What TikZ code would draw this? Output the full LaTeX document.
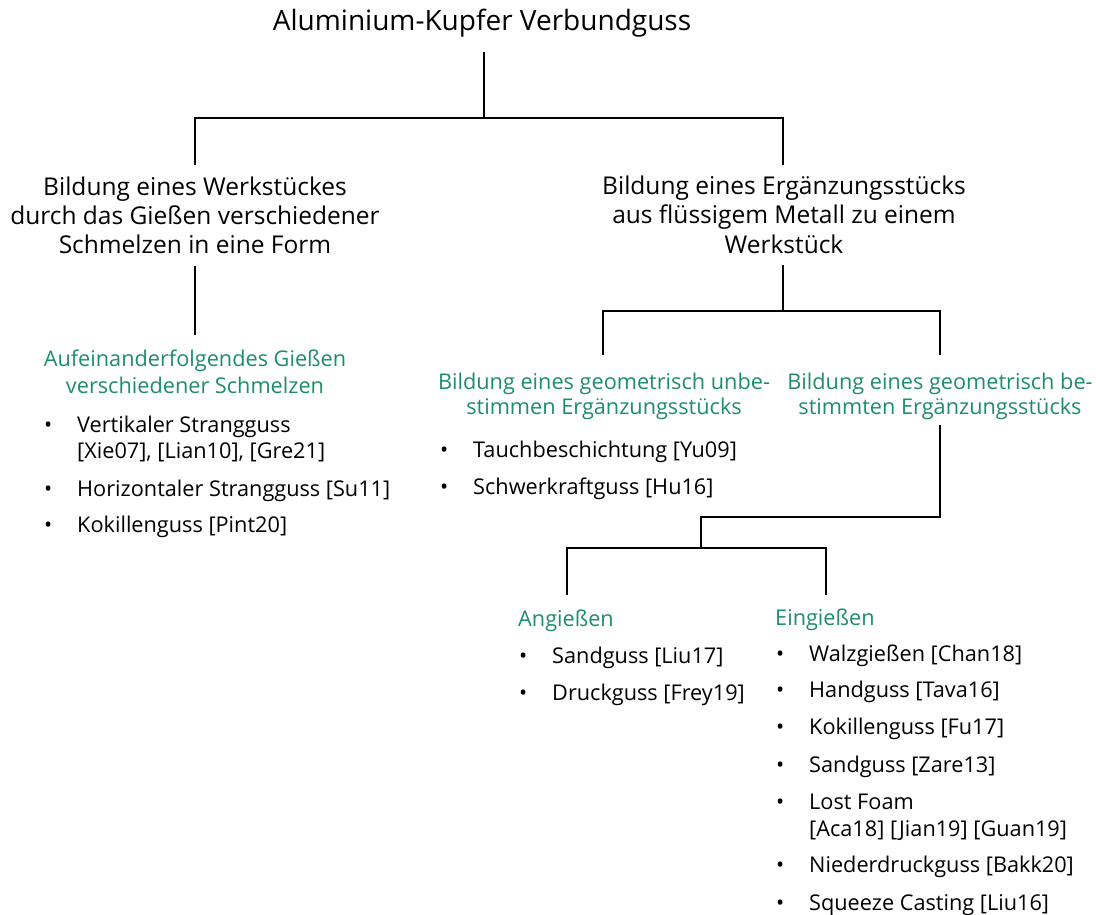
\documentclass[tikz,border=0pt]{standalone}
\usepackage{fontspec}
\setmainfont{Open Sans}
\definecolor{fgreen}{RGB}{30,140,110}
\newcommand{\bul}{\llap{\textbullet\hspace{25pt}}}
\tikzset{
  ln/.style={line width=1.4pt, black},
  ttl/.style={font=\fontsize{28}{32}\selectfont, inner sep=0pt, anchor=base},
  lvtwo/.style={font=\fontsize{24.5}{29}\selectfont, inner sep=0pt, anchor=base},
  grn/.style={font=\fontsize{21.7}{27}\selectfont, text=fgreen, inner sep=0pt, anchor=base},
  grnw/.style={font=\fontsize{21.7}{27}\selectfont, text=fgreen, inner sep=0pt, anchor=base west},
  itm/.style={font=\fontsize{21.7}{26}\selectfont, inner sep=0pt, anchor=base west},
}
\begin{document}
\begin{tikzpicture}[x=1pt,y=-1pt]
\useasboundingbox (0,0) rectangle (1096,915);
% title
\node[ttl] (title) at (482,31) {Aluminium-Kupfer Verbundguss};
% level 2
\node[lvtwo] (la) at (195,196) {Bildung eines Werkstückes};
\node[lvtwo] (lb) at (195,225) {durch das Gießen verschiedener};
\node[lvtwo] (lc) at (195,254) {Schmelzen in eine Form};
\node[lvtwo] (ra) at (784,195) {Bildung eines Ergänzungsstücks};
\node[lvtwo] (rb) at (784,224) {aus flüssigem Metall zu einem};
\node[lvtwo] (rc) at (784,253) {Werkstück};
% green headings
\node[grn] (ga) at (195,366) {Aufeinanderfolgendes Gießen};
\node[grn] (gb) at (195,393) {verschiedener Schmelzen};
\node[grn] (ma) at (604,389) {Bildung eines geometrisch unbe-};
\node[grn] (mb) at (604,414) {stimmen Ergänzungsstücks};
\node[grn] (na) at (940,389) {Bildung eines geometrisch be-};
\node[grn] (nb) at (940,414) {stimmten Ergänzungsstücks};
\node[grnw] (ang) at (518,626) {Angießen};
\node[grnw] (ein) at (775,625) {Eingießen};
% left list
\node[itm] (l1) at (77,432) {\bul Vertikaler Strangguss};
\node[itm] (l1b) at (77,458) {[Xie07], [Lian10], [Gre21]};
\node[itm] (l2) at (77,496) {\bul Horizontaler Strangguss [Su11]};
\node[itm] (l3) at (77,532) {\bul Kokillenguss [Pint20]};
% middle list
\node[itm] (m1) at (473,457) {\bul Tauchbeschichtung [Yu09]};
\node[itm] (m2) at (473,494) {\bul Schwerkraftguss [Hu16]};
% Angiessen list
\node[itm] (a1) at (552,663) {\bul Sandguss [Liu17]};
\node[itm] (a2) at (552,700) {\bul Druckguss [Frey19]};
% Eingiessen list
\node[itm] (e1) at (809,661) {\bul Walzgießen [Chan18]};
\node[itm] (e2) at (809,697) {\bul Handguss [Tava16]};
\node[itm] (e3) at (809,734) {\bul Kokillenguss [Fu17]};
\node[itm] (e4) at (809,772) {\bul Sandguss [Zare13]};
\node[itm] (e5) at (809,809) {\bul Lost Foam};
\node[itm] (e5b) at (809,836) {[Aca18] [Jian19] [Guan19]};
\node[itm] (e6) at (809,872) {\bul Niederdruckguss [Bakk20]};
\node[itm] (e7) at (809,910) {\bul Squeeze Casting [Liu16]};
% junction coordinates
\coordinate (t0) at (484,52);
\coordinate (t1) at (484,118);
\coordinate (lt) at (195,165);
\coordinate (rt) at (783,165);
\coordinate (lbot) at (195,266);
\coordinate (gtop) at (195,335);
\coordinate (rbot) at (783,265);
\coordinate (rj) at (783,311);
\coordinate (mtop) at (603,355);
\coordinate (ntop) at (940,355);
\coordinate (nbot) at (940,425);
\coordinate (nj) at (940,517);
\coordinate (aj) at (701,548);
\coordinate (angtop) at (567,595);
\coordinate (eintop) at (826,595);
% connectors
\draw[ln] (t0) -- (t1);
\draw[ln] (lt) |- (t1) -| (rt);
\draw[ln] (lbot) -- (gtop);
\draw[ln] (rbot) -- (rj);
\draw[ln] (mtop) |- (rj) -| (ntop);
\draw[ln] (nbot) |- (aj |- nj) -- (aj);
\draw[ln] (angtop) |- (aj) -| (eintop);
\end{tikzpicture}
\end{document}
